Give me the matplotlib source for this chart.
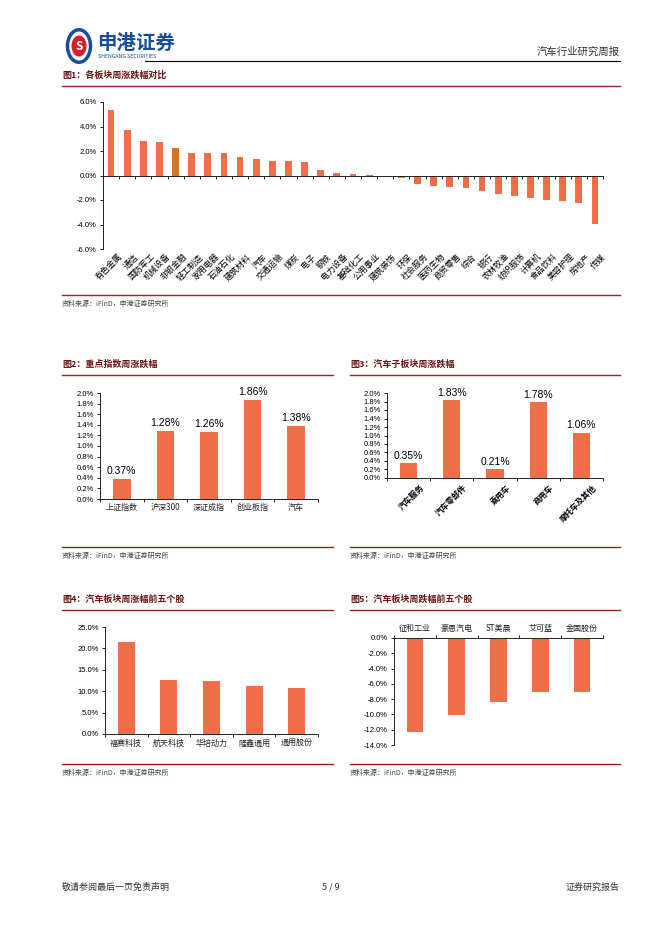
import numpy as np
import matplotlib
matplotlib.use('Agg')
import matplotlib.pyplot as plt
from matplotlib.lines import Line2D
from matplotlib.patches import Circle

plt.rcParams['font.family'] = ['Noto Sans CJK SC', 'DejaVu Sans']
plt.rcParams['axes.unicode_minus'] = False

# 图1 数据
sectors = ['有色金属', '通信', '国防军工', '机械设备', '非银金融', '轻工制造', '家用电器',
           '石油石化', '建筑材料', '汽车', '交通运输', '煤炭', '电子', '钢铁', '电力设备',
           '基础化工', '公用事业', '建筑装饰', '环保', '社会服务', '医药生物', '商贸零售',
           '综合', '银行', '农林牧渔', '纺织服饰', '计算机', '食品饮料', '美容护理',
           '房地产', '传媒']
sector_chg = [5.33, 3.70, 2.80, 2.75, 2.23, 1.85, 1.85, 1.80, 1.52, 1.38, 1.17, 1.17,
              1.09, 0.41, 0.19, 0.12, 0.06, -0.06, -0.19, -0.71, -0.82, -0.90, -1.06,
              -1.25, -1.55, -1.66, -1.80, -1.96, -2.07, -2.23, -3.92]

# 图2 数据
index_names = ['上证指数', '沪深300', '深证成指', '创业板指', '汽车']
index_chg = [0.37, 1.28, 1.26, 1.86, 1.38]

# 图3 数据
sub_names = ['汽车服务', '汽车零部件', '乘用车', '商用车', '摩托车及其他']
sub_chg = [0.35, 1.83, 0.21, 1.78, 1.06]

# 图4 / 图5 数据
top_names = ['福赛科技', '航天科技', '华培动力', '隆鑫通用', '通用股份']
top_chg = [21.4, 12.7, 12.5, 11.3, 10.8]
bot_names = ['征和工业', '豪恩汽电', 'ST美晨', '艾可蓝', '金固股份']
bot_chg = [-12.26, -10.04, -8.35, -7.04, -7.04]

W, H = 662, 936
BAR = '#EE6F47'
HILITE = '#D9731F'
RED = '#8E2A22'
fig = plt.figure(figsize=(W / 100, H / 100), dpi=100)


def px(x, y):
    return x / W, 1 - y / H


def hline(x1, x2, y, color, lw=1.0):
    fig.add_artist(Line2D([x1 / W, x2 / W], [1 - y / H, 1 - y / H],
                          transform=fig.transFigure, color=color, lw=lw))


def axes_px(l, t, r, b):
    return fig.add_axes([l / W, 1 - b / H, (r - l) / W, (b - t) / H])


def title(x, y, s, x2):
    fig.text(*px(x, y), s, fontsize=6.5, fontweight='bold', color='#6B1414', va='center')
    hline(x, x2, y + 11, RED, 1.0)


def source(x, y, x2):
    hline(x, x2, y - 9, RED, 1.0)
    fig.text(*px(x, y), '资料来源：iFinD，申港证券研究所', fontsize=5, color='#444444',
             va='center')


def style_axes(ax):
    for s in ['top', 'right']:
        ax.spines[s].set_visible(False)
    for s in ['left', 'bottom', 'top']:
        ax.spines[s].set_color('#222222')
        ax.spines[s].set_linewidth(0.7)
    ax.tick_params(axis='y', labelsize=5.5, length=2.5, width=0.6, pad=2)
    for t in ax.get_yticklabels():
        t.set_fontfamily(['Liberation Sans', 'DejaVu Sans'])


def pct(ax, fmt):
    ax.yaxis.set_major_formatter(plt.FuncFormatter(lambda v, p: fmt.format(v)))


# 页眉
fig.add_artist(Circle(px(79, 46), 11.5 / W, transform=fig.transFigure,
                      facecolor='white', edgecolor='#1A4C9C', lw=2.5))
fig.add_artist(Circle(px(79, 46), 7.5 / W, transform=fig.transFigure,
                      facecolor='#D42027', edgecolor='none'))
fig.text(*px(79, 46.5), 'S', fontsize=8.5, fontweight='bold', color='white',
         ha='center', va='center')
fig.text(*px(97, 43), '申港证券', fontsize=14, fontweight='bold', color='#1A4C9C',
         va='center')
fig.text(*px(98, 57), 'SHENGANG SECURITIES', fontsize=3.8, color='#1A4C9C', va='center')
hline(145, 620, 61, 'black', 0.8)
fig.text(*px(620, 52), '汽车行业研究周报', fontsize=7.5, color='#333333',
         ha='right', va='center')

# 图1
title(62, 75, '图1：各板块周涨跌幅对比', 620)
ax1 = axes_px(103, 102, 603, 249)
x1 = np.arange(len(sectors))
colors1 = [HILITE if s == '非银金融' else BAR for s in sectors]
ax1.bar(x1, sector_chg, width=0.42, color=colors1)
ax1.set_xlim(-0.5, len(sectors) - 0.5)
ax1.set_ylim(-6, 6)
ax1.set_yticks(np.arange(-6, 6.1, 2))
pct(ax1, '{:.1f}%')
style_axes(ax1)
ax1.spines['bottom'].set_position(('data', 0))
ax1.set_xticks(np.arange(-0.5, len(sectors), 1))
ax1.set_xticklabels([])
ax1.tick_params(axis='x', length=2.5, width=0.6, direction='out')
for i, name in enumerate(sectors):
    ax1.text(i + 0.4, -6.25, name, rotation=45, ha='right', va='top', fontsize=6,
             rotation_mode='anchor')
source(62, 304, 620)

# 图2
title(62, 364, '图2：重点指数周涨跌幅', 333)
ax2 = axes_px(100, 393, 318, 499)
x2 = np.arange(len(index_names))
ax2.bar(x2, index_chg, width=0.4, color=BAR)
ax2.set_xlim(-0.5, len(index_names) - 0.5)
ax2.set_ylim(0, 2.0)
ax2.set_yticks(np.arange(0, 2.01, 0.2))
pct(ax2, '{:.1f}%')
style_axes(ax2)
ax2.set_xticks(np.arange(-0.5, len(index_names), 1))
ax2.set_xticklabels([])
ax2.tick_params(axis='x', length=2.5, width=0.6)
for i, (n, v) in enumerate(zip(index_names, index_chg)):
    ax2.text(i, -0.08, n, ha='center', va='top', fontsize=5.8, color='#222222')
    ax2.text(i, v + 0.06, f'{v:.2f}%', ha='center', va='bottom', fontsize=7.5,
             family=['Liberation Sans', 'DejaVu Sans'])
source(62, 556, 333)

# 图3
title(350, 364, '图3：汽车子板块周涨跌幅', 620)
ax3 = axes_px(387, 393, 603, 478)
x3 = np.arange(len(sub_names))
ax3.bar(x3, sub_chg, width=0.4, color=BAR)
ax3.set_xlim(-0.5, len(sub_names) - 0.5)
ax3.set_ylim(0, 2.0)
ax3.set_yticks(np.arange(0, 2.01, 0.2))
pct(ax3, '{:.1f}%')
style_axes(ax3)
ax3.set_xticks(np.arange(-0.5, len(sub_names), 1))
ax3.set_xticklabels([])
ax3.tick_params(axis='x', length=2.5, width=0.6)
for i, (n, v) in enumerate(zip(sub_names, sub_chg)):
    ax3.text(i + 0.25, -0.12, n, rotation=45, ha='right', va='top', fontsize=5.8,
             rotation_mode='anchor', fontweight='bold')
    ax3.text(i, v + 0.06, f'{v:.2f}%', ha='center', va='bottom', fontsize=7.5,
             family=['Liberation Sans', 'DejaVu Sans'])
source(350, 556, 620)

# 图4
title(62, 599, '图4：汽车板块周涨幅前五个股', 333)
ax4 = axes_px(105, 627, 318, 734)
x4 = np.arange(len(top_names))
ax4.bar(x4, top_chg, width=0.4, color=BAR)
ax4.set_xlim(-0.5, len(top_names) - 0.5)
ax4.set_ylim(0, 25)
ax4.set_yticks(np.arange(0, 25.1, 5))
pct(ax4, '{:.1f}%')
style_axes(ax4)
ax4.set_xticks(np.arange(-0.5, len(top_names), 1))
ax4.set_xticklabels([])
ax4.tick_params(axis='x', length=2.5, width=0.6)
for i, n in enumerate(top_names):
    ax4.text(i, -1.2, n, ha='center', va='top', fontsize=5.8, color='#222222')
source(62, 773, 333)

# 图5
title(350, 599, '图5：汽车板块周跌幅前五个股', 620)
ax5 = axes_px(394, 638, 603, 745)
x5 = np.arange(len(bot_names))
ax5.bar(x5, bot_chg, width=0.4, color=BAR)
ax5.set_xlim(-0.5, len(bot_names) - 0.5)
ax5.set_ylim(-14, 0)
ax5.set_yticks(np.arange(-14, 0.1, 2))
pct(ax5, '{:.1f}%')
style_axes(ax5)
ax5.spines['top'].set_visible(True)
ax5.spines['bottom'].set_visible(False)
ax5.xaxis.tick_top()
ax5.set_xticks(np.arange(-0.5, len(bot_names), 1))
ax5.set_xticklabels([])
ax5.tick_params(axis='x', length=2.5, width=0.6)
for i, n in enumerate(bot_names):
    ax5.text(i, 0.6, n, ha='center', va='bottom', fontsize=5.8, color='#222222')
source(350, 773, 620)

# 页脚
fig.text(*px(62, 887), '敬请参阅最后一页免责声明', fontsize=6.5, color='#333333', va='center')
fig.text(*px(331, 887), '5 / 9', fontsize=6.5, color='#333333', va='center', ha='center')
fig.text(*px(620, 887), '证券研究报告', fontsize=6.5, color='#333333', va='center', ha='right')

fig.savefig('out.png', dpi=100)
